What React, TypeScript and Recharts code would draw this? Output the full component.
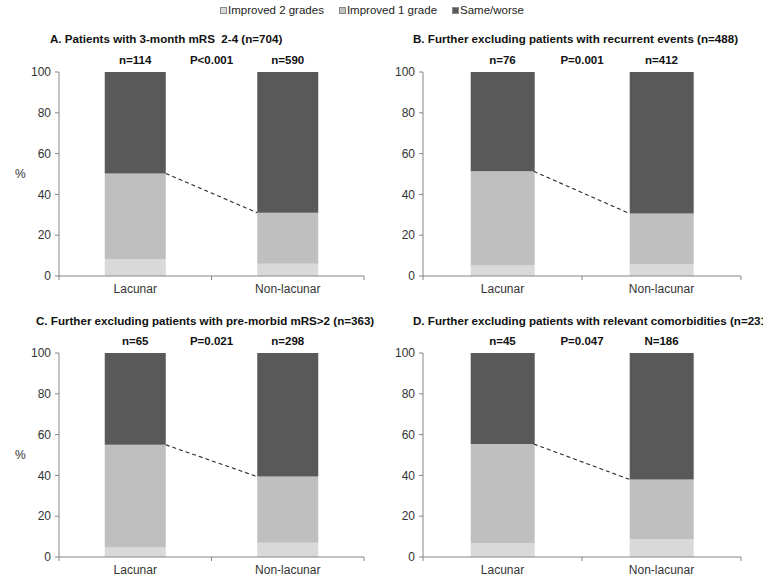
import React from 'react';
import { BarChart, Bar, XAxis, YAxis, Rectangle } from 'recharts';

// ---------- data ----------
const CATEGORIES = ['Lacunar', 'Non-lacunar'];
const SERIES_NAMES = ['Improved 2 grades', 'Improved 1 grade', 'Same/worse'];
const Y_TICKS = [0, 20, 40, 60, 80, 100];

const A_IMPROVED_2 = [8.3, 6.0];
const A_IMPROVED_1 = [42.0, 25.0];
const A_SAME = [49.7, 69.0];

const B_IMPROVED_2 = [5.2, 5.7];
const B_IMPROVED_1 = [46.1, 24.9];
const B_SAME = [48.7, 69.4];

const C_IMPROVED_2 = [4.6, 7.0];
const C_IMPROVED_1 = [50.4, 32.4];
const C_SAME = [45.0, 60.6];

const D_IMPROVED_2 = [6.7, 8.8];
const D_IMPROVED_1 = [48.7, 29.2];
const D_SAME = [44.6, 62.0];

const A_N = ['n=114', 'n=590'];
const B_N = ['n=76', 'n=412'];
const C_N = ['n=65', 'n=298'];
const D_N = ['n=45', 'N=186'];
const P_LABELS = ['P<0.001', 'P=0.001', 'P=0.021', 'P=0.047'];

const TITLES = [
  'A. Patients with 3-month mRS  2-4 (n=704)',
  'B. Further excluding patients with recurrent events (n=488)',
  'C. Further excluding patients with pre-morbid mRS>2 (n=363)',
  'D. Further excluding patients with relevant comorbidities (n=231)',
];

// ---------- styles ----------
const COLORS = ['#d9d9d9', '#bfbfbf', '#595959'];
const AXIS = '#868686';
const FONT = "'Liberation Sans', Arial, Helvetica, sans-serif";
const BAR_GAP = 0.3; // fraction of each category band left empty on each side

function buildRows(imp2: number[], imp1: number[], same: number[]) {
  return CATEGORIES.map((name, i) => ({ name, imp2: imp2[i], imp1: imp1[i], same: same[i] }));
}

const PANELS = [
  { rows: buildRows(A_IMPROVED_2, A_IMPROVED_1, A_SAME), n: A_N, p: P_LABELS[0], title: TITLES[0] },
  { rows: buildRows(B_IMPROVED_2, B_IMPROVED_1, B_SAME), n: B_N, p: P_LABELS[1], title: TITLES[1] },
  { rows: buildRows(C_IMPROVED_2, C_IMPROVED_1, C_SAME), n: C_N, p: P_LABELS[2], title: TITLES[2] },
  { rows: buildRows(D_IMPROVED_2, D_IMPROVED_1, D_SAME), n: D_N, p: P_LABELS[3], title: TITLES[3] },
];

const LAYOUT = [
  { left: 0, top: 48, width: 381, ml: 14, mr: 17, yw: 45, pct: true, titleX: 50, titleY: 32 },
  { left: 381, top: 48, width: 382, ml: 7, mr: 22, yw: 35, pct: false, titleX: 413, titleY: 32 },
  { left: 0, top: 329, width: 381, ml: 14, mr: 17, yw: 45, pct: true, titleX: 36, titleY: 314 },
  { left: 381, top: 329, width: 382, ml: 7, mr: 22, yw: 35, pct: false, titleX: 413, titleY: 314 },
];

function BottomTick(props: any) {
  const { x, y, payload, index } = props;
  const half = (payload && payload.offset) || 0;
  const last = index === CATEGORIES.length - 1;
  return (
    <g>
      <line x1={x - half} x2={x - half} y1={y} y2={y + 4} stroke={AXIS} />
      {last && <line x1={x + half} x2={x + half} y1={y} y2={y + 4} stroke={AXIS} />}
      <text x={x} y={y + 17} textAnchor="middle" fontSize={12} fill="#333" fontFamily={FONT}>
        {payload.value}
      </text>
    </g>
  );
}

// Improved-1-grade segment; on the second category it also draws the dashed
// connector between the cumulative "improved" levels of the two bars.
function makeImp1Shape(rows: { imp2: number; imp1: number }[]) {
  return (props: any) => {
    const { x, y, width, height, index, fill } = props;
    const rect = <Rectangle x={x} y={y} width={width} height={height} fill={fill} />;
    if (index !== 1 || !height) return rect;
    const band = width / (1 - 2 * BAR_GAP);
    const pxPerUnit = height / rows[1].imp1;
    const baseY = y + height; // level rows[1].imp2
    const cum0 = rows[0].imp2 + rows[0].imp1;
    const y0 = baseY - (cum0 - rows[1].imp2) * pxPerUnit;
    const x0 = x - 2 * BAR_GAP * band;
    return (
      <g>
        {rect}
        <line x1={x0} y1={y0} x2={x} y2={y} stroke="#2b2b2b" strokeDasharray="4 3" strokeWidth={1.1} />
      </g>
    );
  };
}

function Panel({ idx }: { idx: number }) {
  const panel = PANELS[idx];
  const lay = LAYOUT[idx];
  return (
    <div style={{ position: 'absolute', left: lay.left, top: lay.top }}>
      <BarChart
        width={lay.width}
        height={252}
        data={panel.rows}
        margin={{ top: 0, right: lay.mr, bottom: 0, left: lay.ml }}
        barCategoryGap={`${BAR_GAP * 100}%`}
      >
        <XAxis
          xAxisId="top"
          orientation="top"
          dataKey="name"
          type="category"
          height={24}
          axisLine={false}
          tickLine={false}
          interval={0}
          tickFormatter={(_v: string, i: number) => panel.n[i]}
          tick={{ fontSize: 11.5, fontWeight: 'bold', fill: '#111', fontFamily: FONT }}
          label={{
            value: panel.p,
            position: 'insideBottom',
            offset: 8,
            fontSize: 11.5,
            fontWeight: 'bold',
            fill: '#111',
            fontFamily: FONT,
          }}
        />
        <XAxis
          xAxisId="cat"
          dataKey="name"
          type="category"
          height={24}
          interval={0}
          axisLine={{ stroke: AXIS }}
          tickLine={false}
          tickSize={0}
          tickMargin={0}
          tick={(p: any) => <BottomTick {...p} />}
        />
        <YAxis
          type="number"
          domain={[0, 100]}
          ticks={Y_TICKS}
          interval={0}
          width={lay.yw}
          axisLine={{ stroke: AXIS }}
          tickLine={{ stroke: AXIS }}
          tickSize={4}
          tickMargin={4}
          tick={{ fontSize: 12, fill: '#333', fontFamily: FONT }}
          label={
            lay.pct
              ? { value: '%', position: 'insideLeft', offset: 1, fontSize: 12, fill: '#333', fontFamily: FONT }
              : undefined
          }
        />
        <Bar xAxisId="cat" dataKey="imp2" stackId="s" fill={COLORS[0]} isAnimationActive={false} />
        <Bar
          xAxisId="cat"
          dataKey="imp1"
          stackId="s"
          fill={COLORS[1]}
          isAnimationActive={false}
          shape={makeImp1Shape(panel.rows)}
        />
        <Bar xAxisId="cat" dataKey="same" stackId="s" fill={COLORS[2]} isAnimationActive={false} />
      </BarChart>
    </div>
  );
}

export default function App() {
  return (
    <div
      style={{
        position: 'absolute',
        left: 0,
        top: 0,
        width: 763,
        height: 574,
        overflow: 'hidden',
        background: '#fff',
        fontFamily: FONT,
      }}
    >
      <div
        style={{
          position: 'absolute',
          left: 220,
          top: 3,
          display: 'flex',
          alignItems: 'center',
          fontSize: 11.5,
          color: '#222',
          whiteSpace: 'nowrap',
          lineHeight: '14px',
        }}
      >
        {SERIES_NAMES.map((s, i) => (
          <span key={s} style={{ display: 'flex', alignItems: 'center', marginRight: 15 }}>
            <span
              style={{
                display: 'inline-block',
                width: 5,
                height: 5,
                background: COLORS[i],
                border: '1px solid #8a8a8a',
                marginRight: 1,
              }}
            />
            {s}
          </span>
        ))}
      </div>
      {PANELS.map((p, i) => (
        <div
          key={'t' + i}
          style={{
            position: 'absolute',
            left: LAYOUT[i].titleX,
            top: LAYOUT[i].titleY,
            fontSize: 11.6,
            fontWeight: 'bold',
            color: '#111',
            whiteSpace: 'pre',
            lineHeight: '14px',
          }}
        >
          {p.title}
        </div>
      ))}
      {PANELS.map((_, i) => (
        <Panel key={i} idx={i} />
      ))}
    </div>
  );
}
